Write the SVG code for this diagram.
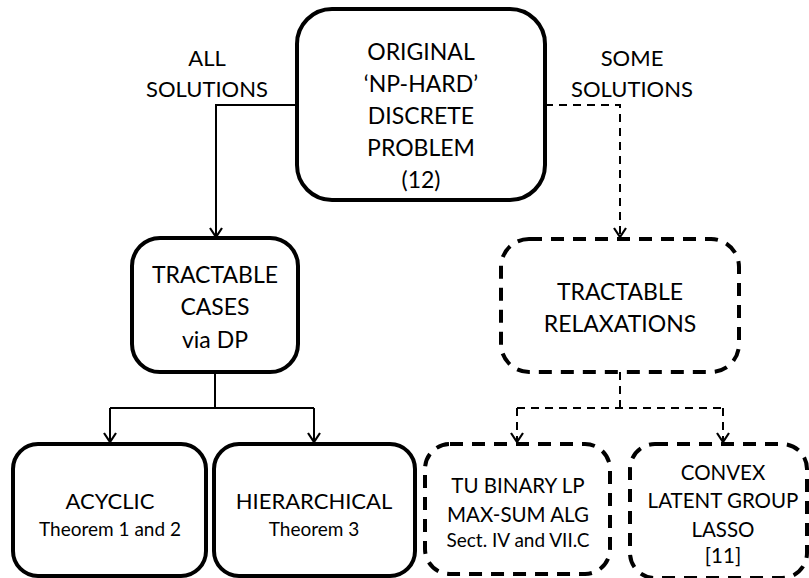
<svg xmlns="http://www.w3.org/2000/svg" width="809" height="578" viewBox="0 0 809 578">
<defs>
<style>
.box{fill:#fff;stroke:#000;stroke-width:4}
.dbox{fill:#fff;stroke:#000;stroke-width:4;stroke-dasharray:13,9}
.con{fill:none;stroke:#000;stroke-width:2}
.dcon{fill:none;stroke:#000;stroke-width:2;stroke-dasharray:8,6}
text{font-family:Lato,"Open Sans","Liberation Sans",sans-serif;fill:#000;text-anchor:middle}
.big{font-size:23px}
.lbl{font-size:22px}
.mid{font-size:20.5px}
.sm{font-size:19px}
</style>
<marker id="arr" markerUnits="userSpaceOnUse" markerWidth="20" markerHeight="20" refX="0" refY="0" viewBox="-10 -10 20 20" orient="auto" overflow="visible">
<path d="M-9,-6 L0,0 L-9,6" fill="none" stroke="#000" stroke-width="2.2" stroke-dasharray="none"/>
</marker>
</defs>
<g id="connectors">
<path class="con" d="M297,105 H216 V237" marker-end="url(#arr)"/>
<path class="con" d="M215,372 V408"/>
<path class="con" d="M110,408 H314"/>
<path class="con" d="M110,408 V442" marker-end="url(#arr)"/>
<path class="con" d="M314,408 V442" marker-end="url(#arr)"/>
<path class="dcon" d="M545,105 H620 V237" marker-end="url(#arr)"/>
<path class="dcon" d="M620,372 V408"/>
<path class="dcon" d="M517,408 H723"/>
<path class="dcon" d="M517,408 V442" marker-end="url(#arr)"/>
<path class="dcon" d="M723,408 V442" marker-end="url(#arr)"/>
</g>
<g id="label-all">
<text class="lbl" x="207" y="66">ALL</text>
<text class="lbl" x="207" y="97">SOLUTIONS</text>
</g>
<g id="label-some">
<text class="lbl" x="632" y="66">SOME</text>
<text class="lbl" x="632" y="97">SOLUTIONS</text>
</g>
<g id="original">
<rect class="box" x="297" y="9" width="248" height="191" rx="35"/>
<text class="big" x="421" y="60">ORIGINAL</text>
<text class="big" x="421" y="92">‘NP-HARD’</text>
<text class="big" x="421" y="124">DISCRETE</text>
<text class="big" x="421" y="156">PROBLEM</text>
<text class="big" x="421" y="188">(12)</text>
</g>
<g id="tractable-cases">
<rect class="box" x="132" y="238" width="166" height="134" rx="28"/>
<text class="big" x="215" y="283">TRACTABLE</text>
<text class="big" x="215" y="315">CASES</text>
<text class="big" x="215" y="348">via DP</text>
</g>
<g id="tractable-relaxations">
<rect class="dbox" x="501" y="239" width="238" height="133" rx="28"/>
<text class="big" x="620" y="300">TRACTABLE</text>
<text class="big" x="620" y="332">RELAXATIONS</text>
</g>
<g id="acyclic">
<rect class="box" x="13" y="444" width="193" height="132" rx="25"/>
<text class="lbl" x="110" y="509">ACYCLIC</text>
<text class="sm" x="110" y="536">Theorem 1 and 2</text>
</g>
<g id="hierarchical">
<rect class="box" x="214" y="444" width="201" height="132" rx="25"/>
<text class="lbl" x="314" y="509">HIERARCHICAL</text>
<text class="sm" x="314" y="536">Theorem 3</text>
</g>
<g id="tu-binary">
<rect class="dbox" x="425" y="444" width="185" height="130" rx="25"/>
<text class="mid" x="518" y="493">TU BINARY LP</text>
<text class="mid" x="518" y="522">MAX-SUM ALG</text>
<text class="sm" x="518" y="547">Sect. IV and VII.C</text>
</g>
<g id="convex">
<rect class="dbox" x="630" y="444" width="177" height="134" rx="25"/>
<text class="mid" x="723" y="480">CONVEX</text>
<text class="mid" x="723" y="508">LATENT GROUP</text>
<text class="mid" x="723" y="537">LASSO</text>
<text class="mid" x="723" y="563">[11]</text>
</g>
</svg>
